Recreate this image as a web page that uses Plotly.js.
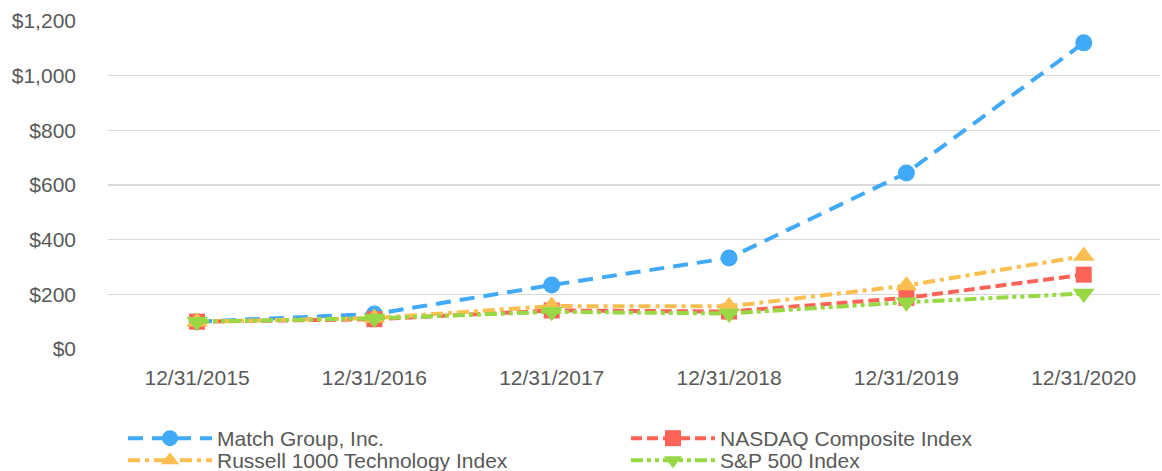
<!DOCTYPE html>
<html>
<head>
<meta charset="utf-8">
<script src="https://cdn.plot.ly/plotly-3.0.1.min.js"></script>
<style>
  html, body { margin: 0; padding: 0; background: #ffffff; }
  #chart { width: 1162px; height: 471px; }
</style>
</head>
<body>
<div id="chart"></div>
<script>
const categories = ["12/31/2015", "12/31/2016", "12/31/2017", "12/31/2018", "12/31/2019", "12/31/2020"];
const matchGroup = [100, 128, 234, 333, 644, 1120];
const nasdaq = [100, 109, 141, 137, 187, 272];
const russell = [100, 113, 157, 156, 232, 340];
const sp500 = [100, 112, 136, 130, 171, 203];
const yTickValues = [0, 200, 400, 600, 800, 1000, 1200];
const yTickLabels = ["$0", "$200", "$400", "$600", "$800", "$1,000", "$1,200"];

const xIdx = categories.map((_, i) => i);
const FONT = "Liberation Sans, Arial, sans-serif";
const GREY = "#595959";

function trace(name, values, color, dash, symbol, size, legendId) {
  return {
    type: "scatter", mode: "lines+markers", name: name,
    x: xIdx, y: values,
    line: { color: color, width: 4, dash: dash },
    marker: { color: color, size: size, symbol: symbol },
    legend: legendId,
    hoverinfo: "skip"
  };
}

const data = [
  trace("Match Group, Inc.", matchGroup, "#40AAF8", "15px,9px", "circle", 17, "legend"),
  trace("NASDAQ Composite Index", nasdaq, "#FF6358", "11px,5px", "square", 16, "legend"),
  trace("Russell 1000 Technology Index", russell, "#FBBF50", "12px,5px,4px,5px", "triangle-up", 19, "legend2"),
  trace("S&P 500 Index", sp500, "#97D844", "12px,4px,4px,4px,4px,4px", "triangle-down", 19, "legend2")
];

function legendBox(topPx) {
  return {
    orientation: "h",
    xref: "container", yref: "container",
    x: 123 / 1162, y: 1 - topPx / 471,
    xanchor: "left", yanchor: "top",
    entrywidth: 404, entrywidthmode: "pixels",
    itemwidth: 84,
    tracegroupgap: 0,
    font: { family: FONT, size: 21, color: GREY },
    bgcolor: "rgba(0,0,0,0)"
  };
}

const layout = {
  width: 1162, height: 471,
  margin: { l: 108, r: 2, t: 21, b: 122 },
  paper_bgcolor: "#ffffff", plot_bgcolor: "#ffffff",
  font: { family: FONT, size: 21, color: GREY },
  showlegend: true,
  xaxis: {
    tickmode: "array", tickvals: xIdx, ticktext: categories,
    range: [-0.502, 5.43],
    showgrid: false, zeroline: false, showline: false,
    ticks: "", ticklabelstandoff: 14,
    tickfont: { family: FONT, size: 21, color: GREY }
  },
  yaxis: {
    range: [0, 1200],
    tickmode: "array", tickvals: yTickValues, ticktext: yTickLabels,
    showgrid: true, gridcolor: "#d9d9d9", gridwidth: 1.5,
    zeroline: false, showline: false,
    ticks: "", ticklabelstandoff: 31,
    tickfont: { family: FONT, size: 21, color: GREY }
  },
  legend: legendBox(418),
  legend2: legendBox(440)
};

Plotly.newPlot("chart", data, layout, { displayModeBar: false, staticPlot: true });
</script>
</body>
</html>
